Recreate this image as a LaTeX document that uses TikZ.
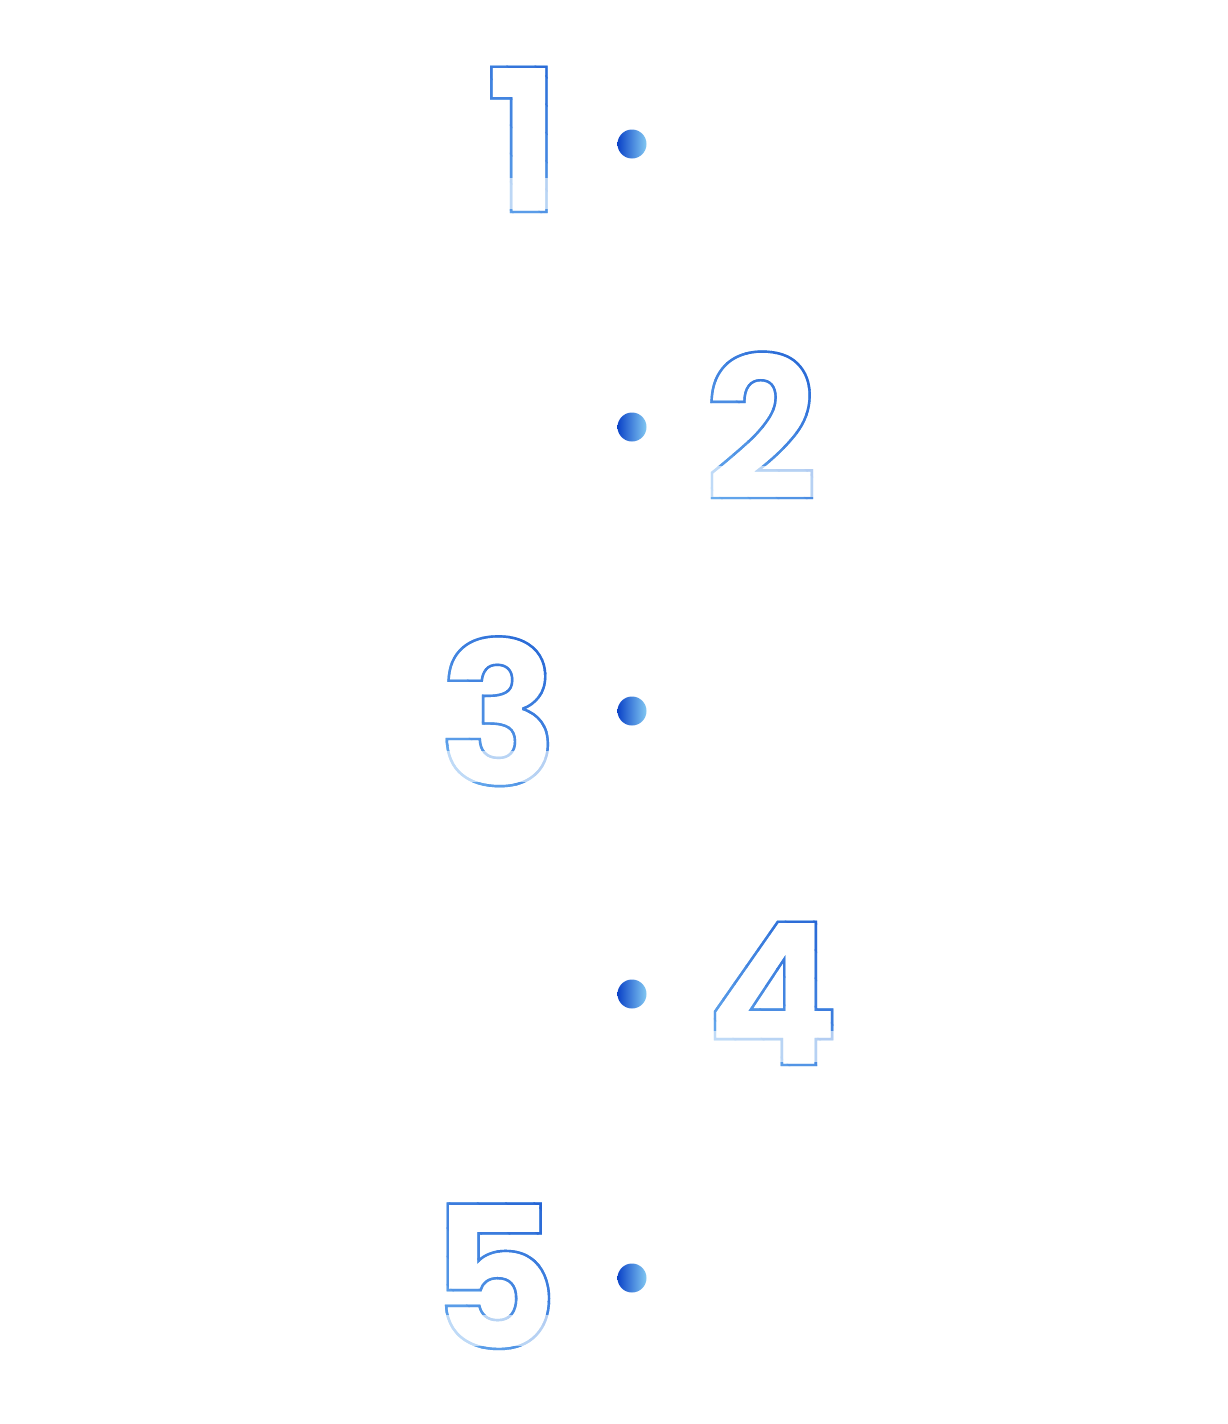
\documentclass[tikz,border=0pt]{standalone}
\usepackage{fontspec}
\newfontfamily\numfont{Poppins}
\usetikzlibrary{positioning}

\definecolor{dotDark}{RGB}{12,68,200}
\definecolor{dotLight}{RGB}{130,200,242}
\definecolor{numDark}{RGB}{30,92,210}
\definecolor{numLight}{RGB}{112,180,240}

% outlined glyph: stroke only
\newcommand{\outl}[2]{\textcolor{#1}{\special{pdf:literal direct 1 Tr 2.4 w}#2\special{pdf:literal direct 0 Tr}}}

\tikzset{
  dot/.style={circle, inner sep=0pt, minimum size=29pt, left color=dotDark, right color=dotLight},
  num/.style={inner sep=0pt, font=\numfont\bfseries\fontsize{199}{199}\selectfont},
  veil/.style={fill=white, opacity=0.6},
}

\begin{document}
\begin{tikzpicture}[x=1pt,y=1pt]
            \useasboundingbox (0,0) rectangle (1227,-1424);
            % dots
            \node[dot] at (632,-144) (d1) {};
            \node[dot] at (632,-427) (d2) {};
            \node[dot] at (632,-711) (d3) {};
            \node[dot] at (632,-994) (d4) {};
            \node[dot] at (632,-1278) (d5) {};
            % numbers, light outline
            \node[num, anchor=base east] at (561,-212) (n1) {\outl{numLight}{1}};
            \node[num, anchor=base west] at (704,-500) (n2) {\outl{numLight}{2}};
            \node[num, anchor=base east] at (559,-785) (n3) {\outl{numLight}{3}};
            \node[num, anchor=base west] at (705,-1065) (n4) {\outl{numLight}{4}};
            \node[num, anchor=base east] at (559,-1349) (n5) {\outl{numLight}{5}};
            % darker towards the upper right, in diagonal bands
            \foreach \n in {1,...,5} {
              \foreach \k in {0,...,11} {
                \pgfmathsetmacro\mix{100*\k/11}
                \begin{scope}
                  \clip[shift={(n\n.center)}, rotate=45] ({-120+20*\k},-200) rectangle ({-99+20*\k},200);
                  \node[num, anchor=center] at (n\n.center) (m\n-\k) {\outl{numDark!\mix!numLight}{\n}};
                \end{scope}
              }
            }
            % white veil over the feet
            \foreach \n in {1,...,5}
              \fill[veil] ([yshift=3pt]n\n.base west) rectangle ([yshift=34pt]n\n.base east);
        \end{tikzpicture}
\end{document}
